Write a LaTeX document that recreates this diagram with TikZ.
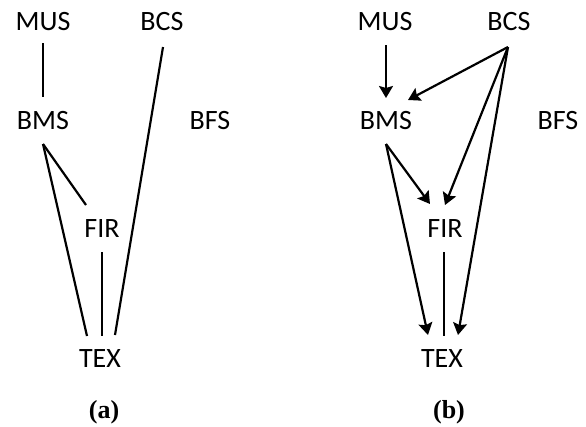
\documentclass[tikz,border=0pt]{standalone}
\usepackage{fontspec}
\setmainfont{Carlito}
\newfontfamily\capfont{Liberation Serif}
\usetikzlibrary{arrows.meta}
\begin{document}
\begin{tikzpicture}[x=1pt,y=-1pt,
  lbl/.style={font=\fontsize{28}{30}\selectfont, inner sep=0pt, anchor=center},
  captxt/.style={font=\capfont\bfseries\fontsize{26}{28}\selectfont, inner sep=0pt},
  plainedge/.style={line width=2.2pt},
  arrowedge/.style={line width=2.2pt, -{Stealth[length=12pt,width=14pt,inset=2pt]}}]
\useasboundingbox (0,0) rectangle (586,426);
% panel (a)
\node[lbl] (musA) at (43,22) {MUS};
\node[lbl] (bcsA) at (162,22) {BCS};
\node[lbl] (bmsA) at (43,121) {BMS};
\node[lbl] (bfsA) at (210,121) {BFS};
\node[lbl] (firA) at (102,229) {FIR};
\node[lbl] (texA) at (100,359) {TEX};
\node[captxt] (capA) at (104,412) {(a)};
\draw[plainedge] ([shift={(0,21)}]musA.center) -- ([shift={(0,-24)}]bmsA.center);
\draw[plainedge] ([shift={(1,25)}]bcsA.center) -- ([shift={(15,-24)}]texA.center);
\draw[plainedge] ([shift={(0,23)}]bmsA.center) -- ([shift={(-13,-23)}]texA.center);
\draw[plainedge] ([shift={(0,23)}]bmsA.center) -- ([shift={(-16,-24)}]firA.center);
\draw[plainedge] ([shift={(0,23)}]firA.center) -- ([shift={(2,-23)}]texA.center);
% panel (b)
\node[lbl] (musB) at (385,22) {MUS};
\node[lbl] (bcsB) at (509,22) {BCS};
\node[lbl] (bmsB) at (386,121) {BMS};
\node[lbl] (bfsB) at (558,121) {BFS};
\node[lbl] (firB) at (445,229) {FIR};
\node[lbl] (texB) at (442,359) {TEX};
\node[captxt] (capB) at (449,412) {(b)};
\draw[arrowedge] ([shift={(1,23)}]musB.center) -- ([shift={(0,-23)}]bmsB.center);
\draw[arrowedge] ([shift={(-1,25)}]bcsB.center) -- ([shift={(22,-21)}]bmsB.center);
\draw[arrowedge] ([shift={(-1,25)}]bcsB.center) -- ([shift={(0,-24)}]firB.center);
\draw[arrowedge] ([shift={(-1,25)}]bcsB.center) -- ([shift={(16,-24)}]texB.center);
\draw[arrowedge] ([shift={(0,23)}]bmsB.center) -- ([shift={(-15,-25)}]firB.center);
\draw[arrowedge] ([shift={(0,23)}]bmsB.center) -- ([shift={(-14,-24)}]texB.center);
\draw[plainedge] ([shift={(-1,23)}]firB.center) -- ([shift={(2,-23)}]texB.center);
\end{tikzpicture}
\end{document}
